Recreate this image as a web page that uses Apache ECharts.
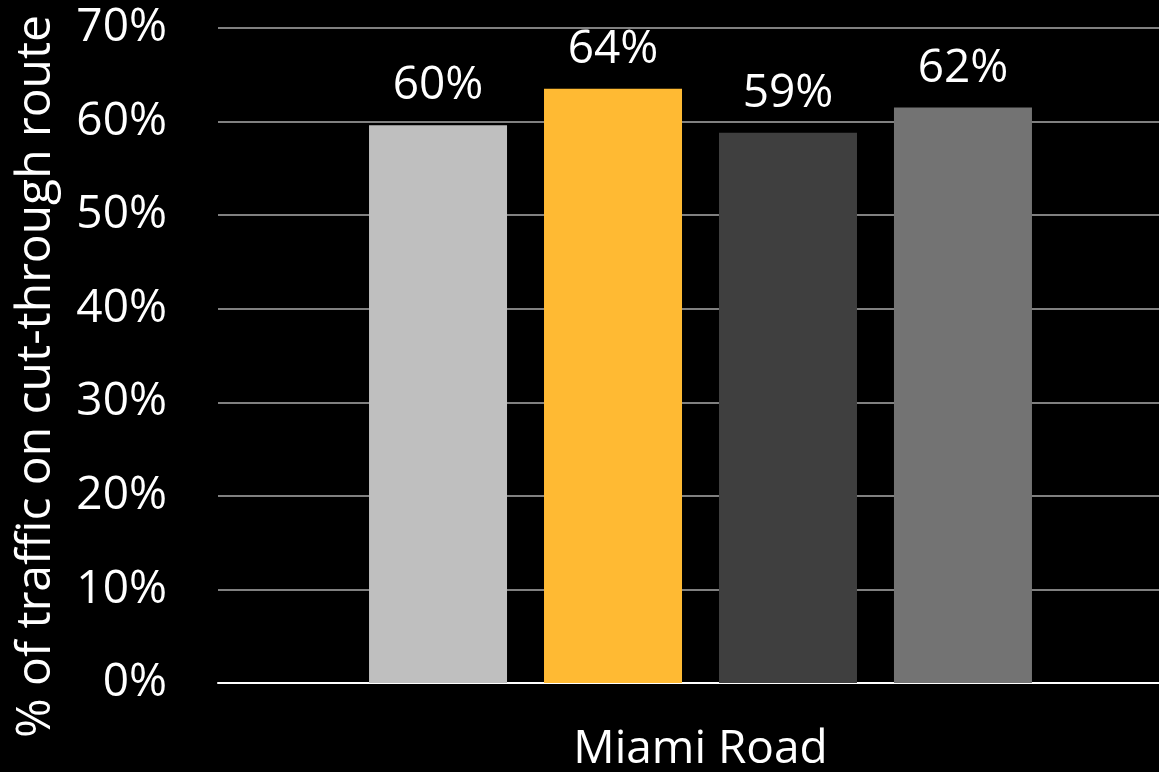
<!DOCTYPE html>
<html>
<head>
<meta charset="utf-8">
<script src="https://cdn.jsdelivr.net/npm/echarts@6/dist/echarts.min.js"></script>
<style>
html,body{margin:0;padding:0;background:#000;}
#chart{width:1159px;height:772px;}
</style>
</head>
<body>
<div id="chart"></div>
<script>
var categories = ['Miami Road'];
var seriesNames = ['Series 1', 'Series 2', 'Series 3', 'Series 4'];
var seriesValues = [[59.6], [63.5], [58.8], [61.5]];
var seriesColors = ['#bfbfbf', '#ffba33', '#3f3f3f', '#737373'];
var yTicks = { min: 0, max: 70, interval: 10 };
var yAxisName = '% of traffic on cut-through route';

var FONT = '"Open Sans", "Noto Sans", sans-serif';
var chart = echarts.init(document.getElementById('chart'));
chart.setOption({
  backgroundColor: '#000',
  animation: false,
  grid: { left: 218, right: -24, top: 28, bottom: 89, containLabel: false, outerBoundsMode: 'none' },
  xAxis: {
    type: 'category',
    data: categories,
    axisLine: { lineStyle: { color: '#ffffff', width: 2 } },
    axisTick: { show: false },
    axisLabel: { color: '#fff', fontSize: 46, fontFamily: FONT, margin: 44 }
  },
  yAxis: {
    type: 'value',
    min: yTicks.min, max: yTicks.max, interval: yTicks.interval,
    name: yAxisName,
    nameLocation: 'middle',
    nameGap: 158,
    nameTextStyle: { color: '#fff', fontSize: 48, fontFamily: FONT, padding: [0, 42, 0, 0] },
    axisLine: { show: false },
    axisTick: { show: false },
    splitLine: { lineStyle: { color: '#808080', width: 2 } },
    axisLabel: { color: '#fff', fontSize: 46, fontFamily: FONT, margin: 51, formatter: function (v) { return v + '%'; } }
  },
  series: seriesValues.map(function (vals, i) {
    return {
      name: seriesNames[i],
      type: 'bar',
      data: vals,
      barWidth: 138,
      barGap: '26.8%',
      itemStyle: { color: seriesColors[i] },
      label: {
        show: true,
        position: 'top',
        distance: 16,
        color: '#fff',
        fontSize: 46,
        fontFamily: FONT,
        formatter: function (p) { return Math.round(p.value) + '%'; }
      }
    };
  })
});
</script>
</body>
</html>
